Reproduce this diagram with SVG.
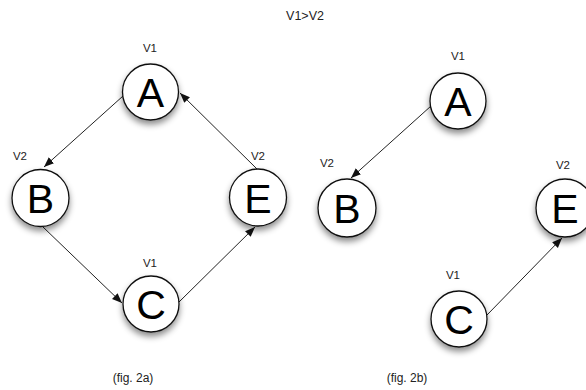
<svg xmlns="http://www.w3.org/2000/svg" width="586" height="390" viewBox="0 0 586 390">
  <defs>
    <filter id="shadow" x="-40%" y="-40%" width="180%" height="190%">
      <feDropShadow dx="0" dy="4" stdDeviation="3" flood-color="#000" flood-opacity="0.45"/>
    </filter>
    <marker id="arrow" viewBox="0 0 10 10" refX="10" refY="5" markerWidth="10" markerHeight="10" markerUnits="userSpaceOnUse" orient="auto">
      <path d="M0,1 L10,5 L0,9 Z" fill="#111"/>
    </marker>
  </defs>
  <style>
    .node circle { fill: #fff; stroke: #111; stroke-width: 1.3; filter: url(#shadow); }
    .node .letter { font-family: "Liberation Sans", Arial, sans-serif; font-size: 41px; fill: #000; text-anchor: middle; }
    .node .ver { font-family: "Liberation Sans", Arial, sans-serif; font-size: 11.5px; fill: #222; text-anchor: middle; }
    .edge { stroke: #222; stroke-width: 1; fill: none; marker-end: url(#arrow); }
    .caption { font-family: "Liberation Sans", Arial, sans-serif; font-size: 12px; fill: #222; text-anchor: middle; }
  </style>
  <rect width="586" height="390" fill="#fff"/>

  <text class="caption" x="305" y="20" style="font-size:12.5px">V1&gt;V2</text>

  <!-- fig. 2a: a ring of four nodes -->
  <g id="connectors-2a">
    <line class="edge" x1="123" y1="96" x2="44" y2="167"/>
    <line class="edge" x1="43" y1="227" x2="122" y2="303"/>
    <line class="edge" x1="179" y1="302" x2="255" y2="227"/>
    <line class="edge" x1="257" y1="169" x2="180" y2="93"/>
  </g>
  <g id="a-2a" class="node">
    <text class="ver" x="150" y="52">V1</text>
    <circle cx="150.5" cy="92" r="28"/>
    <text class="letter" x="150.5" y="107">A</text>
  </g>
  <g id="b-2a" class="node">
    <text class="ver" x="20" y="160">V2</text>
    <circle cx="40.5" cy="198" r="28.5"/>
    <text class="letter" x="40.5" y="213">B</text>
  </g>
  <g id="c-2a" class="node">
    <text class="ver" x="150" y="267">V1</text>
    <circle cx="151" cy="304" r="28"/>
    <text class="letter" x="151" y="319">C</text>
  </g>
  <g id="e-2a" class="node">
    <text class="ver" x="258" y="160">V2</text>
    <circle cx="258" cy="197.5" r="28.5"/>
    <text class="letter" x="258" y="212.5">E</text>
  </g>
  <text class="caption" x="133" y="382">(fig. 2a)</text>

  <!-- fig. 2b: the same nodes with two links left -->
  <g id="connectors-2b">
    <line class="edge" x1="431" y1="106" x2="351" y2="178"/>
    <line class="edge" x1="487" y1="315" x2="562" y2="238"/>
  </g>
  <g id="a-2b" class="node">
    <text class="ver" x="458" y="60">V1</text>
    <circle cx="458" cy="101" r="28"/>
    <text class="letter" x="458" y="116">A</text>
  </g>
  <g id="b-2b" class="node">
    <text class="ver" x="327" y="167">V2</text>
    <circle cx="347" cy="208" r="29"/>
    <text class="letter" x="347" y="223">B</text>
  </g>
  <g id="c-2b" class="node">
    <text class="ver" x="453" y="279">V1</text>
    <circle cx="459" cy="319" r="28"/>
    <text class="letter" x="459" y="334">C</text>
  </g>
  <g id="e-2b" class="node">
    <text class="ver" x="563" y="169">V2</text>
    <circle cx="565" cy="208" r="29"/>
    <text class="letter" x="565" y="223">E</text>
  </g>
  <text class="caption" x="407" y="382">(fig. 2b)</text>
</svg>
